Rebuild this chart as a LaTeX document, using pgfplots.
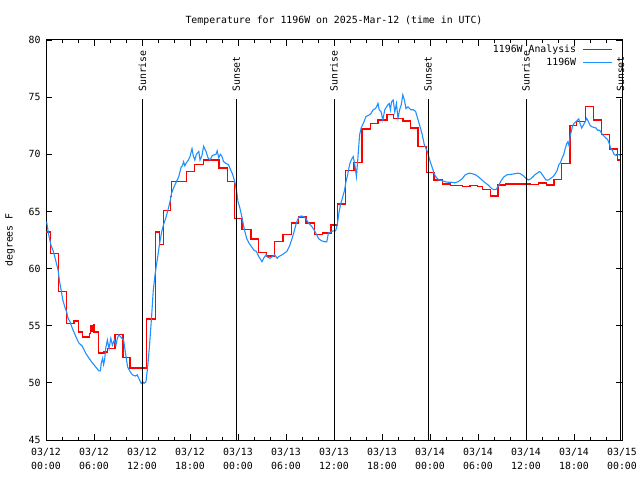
\documentclass[border=0pt]{standalone}
\usepackage{fontspec}
\setmainfont{DejaVu Sans Mono}
\usepackage{pgfplots}
\pgfplotsset{compat=1.18}
\definecolor{obsblue}{RGB}{30,144,255}

% analysis (hourly steps) and station observations
\pgfplotstableread{
h T
0 63.2
0.58 61.3
1.58 58.0
2.58 55.2
3.5 55.4
4.04 54.45
4.54 54.0
5.46 54.3
5.6 55.0
5.75 54.5
5.9 55.1
6.0 54.45
6.6 52.6
7.25 52.7
7.67 53.0
8.63 54.25
9.63 52.2
10.5 51.3
12.54 53.5
12.6 55.6
13.67 63.2
14.2 62.1
14.67 65.1
15.54 66.3
15.67 67.6
17.54 68.5
18.58 69.1
19.7 69.5
21.63 68.8
22.67 67.6
23.6 64.4
24.5 63.4
25.63 62.6
26.58 61.4
27.54 61.1
28.58 62.35
29.63 63.0
30.67 64.0
31.58 64.5
32.5 64.0
33.58 63.0
34.58 63.1
35.63 63.8
36.45 65.65
37.4 68.6
38.5 69.3
39.5 72.2
40.54 72.7
41.5 73.0
42.63 73.5
43.46 73.15
44.63 72.9
45.58 72.3
46.5 70.7
47.54 68.4
48.5 67.75
49.54 67.4
50.58 67.25
52.04 67.2
53.0 67.25
53.9 67.2
54.54 66.9
55.58 66.35
56.5 67.3
57.46 67.4
60.5 67.35
61.54 67.5
62.58 67.3
63.5 67.8
64.46 69.2
65.5 72.5
66.33 72.85
67.46 74.2
68.42 73.0
69.46 71.75
70.42 70.45
71.46 69.5
71.83 69.5
}\analysis

\pgfplotstableread{
h T
0.08 64.1
0.3 63.1
0.6 62.1
0.92 61.5
1.2 60.75
1.5 59.9
1.7 58.85
1.92 58.0
2.1 57.25
2.33 56.7
2.58 56.2
2.75 55.65
3.0 55.35
3.3 54.75
3.58 54.3
3.92 53.75
4.1 53.5
4.54 53.2
4.96 52.6
5.38 52.15
5.79 51.75
6.21 51.4
6.6 51.05
6.8 51.05
6.9 51.7
7.08 52.15
7.2 51.6
7.33 52.0
7.46 53.0
7.67 53.75
7.88 53.0
8.1 53.9
8.3 53.3
8.54 53.75
8.75 53.3
8.92 53.9
9.1 54.2
9.3 54.05
9.7 53.75
10.0 52.3
10.2 51.4
10.5 51.0
10.8 50.7
11.2 50.6
11.4 50.7
11.7 50.25
11.9 49.95
12.1 50.1
12.25 49.95
12.5 50.1
12.75 51.7
12.96 53.45
13.2 55.8
13.4 58.0
13.6 59.3
13.8 60.3
14.0 61.2
14.2 62.2
14.46 63.2
14.67 63.8
14.96 64.4
15.2 65.0
15.5 65.85
15.7 66.6
16.0 67.15
16.3 67.6
16.6 68.05
16.9 68.9
17.05 69.0
17.2 69.35
17.35 69.0
17.5 69.2
17.8 69.5
18.0 69.8
18.25 70.5
18.4 69.9
18.6 69.5
18.8 70.0
19.1 70.25
19.25 69.5
19.5 69.9
19.7 70.7
20.0 70.25
20.25 69.7
20.5 69.5
20.8 69.9
21.25 70.0
21.4 70.3
21.6 69.7
21.8 70.0
22.0 69.8
22.2 69.35
22.5 69.2
22.8 69.1
23.1 68.6
23.3 68.3
23.6 67.6
23.8 66.9
24.0 65.85
24.2 65.4
24.4 64.8
24.6 64.1
24.8 63.4
25.1 62.6
25.4 62.2
25.7 61.9
26.0 61.6
26.3 61.5
26.6 61.05
27.0 60.6
27.2 60.9
27.5 61.2
27.7 61.0
28.0 60.9
28.3 61.05
28.6 61.2
28.9 60.9
29.1 61.05
29.5 61.2
30.1 61.5
30.4 61.9
30.7 62.5
31.0 63.2
31.3 64.0
31.6 64.5
31.9 64.6
32.2 64.55
32.5 64.35
32.8 64.0
33.2 63.7
33.5 63.4
33.8 63.0
34.1 62.6
34.4 62.45
34.8 62.35
35.1 62.35
35.3 63.1
35.6 63.2
35.9 63.3
36.2 63.3
36.4 63.8
36.6 64.8
36.8 65.55
37.1 66.3
37.3 66.8
37.5 67.6
37.7 68.2
37.95 69.1
38.15 69.5
38.4 69.8
38.6 69.1
38.8 68.05
39.0 69.8
39.2 71.7
39.4 72.3
39.75 72.85
40.0 73.3
40.3 73.4
40.6 73.55
40.9 73.9
41.2 74.0
41.5 74.45
41.65 73.9
41.9 73.7
42.1 73.0
42.35 73.9
42.7 74.3
42.9 74.45
43.05 73.9
43.2 74.6
43.4 74.75
43.6 73.7
43.8 74.45
44.0 73.15
44.2 73.9
44.4 74.3
44.6 75.2
44.8 74.75
45.0 74.0
45.25 74.15
45.6 73.9
45.9 73.9
46.2 73.75
46.45 73.15
46.7 72.55
47.0 71.8
47.3 70.8
47.7 70.2
47.9 69.65
48.1 69.2
48.3 68.8
48.5 68.35
48.7 68.05
49.1 67.75
49.5 67.7
49.9 67.6
50.3 67.55
50.7 67.55
51.1 67.5
51.5 67.6
52.0 67.85
52.4 68.2
52.9 68.35
53.3 68.3
53.7 68.2
54.1 68.0
54.5 67.75
54.9 67.5
55.3 67.3
55.7 67.0
56.0 66.9
56.3 66.95
56.6 67.3
56.9 67.7
57.2 68.0
57.6 68.2
58.2 68.25
58.6 68.3
59.0 68.35
59.3 68.3
59.7 68.1
60.0 67.9
60.3 67.75
60.6 67.85
60.9 68.05
61.1 68.2
61.4 68.35
61.7 68.5
61.9 68.35
62.2 68.05
62.5 67.75
62.8 67.75
63.1 67.9
63.4 68.05
63.7 68.35
63.9 68.6
64.1 69.1
64.3 69.25
64.5 69.65
64.7 69.95
64.9 70.5
65.1 70.95
65.25 71.1
65.4 70.7
65.5 71.55
65.7 72.1
65.8 72.45
66.0 72.7
66.25 72.85
66.46 73.0
66.6 73.1
66.75 72.7
66.96 72.3
67.2 72.6
67.4 72.85
67.58 73.15
67.8 72.85
68.0 72.55
68.25 72.4
68.5 72.35
68.75 72.3
68.96 72.1
69.2 72.1
69.4 71.9
69.6 71.7
69.8 71.55
70.0 71.4
70.2 71.3
70.4 70.95
70.6 70.5
70.8 70.35
71.0 70.0
71.25 69.9
71.5 70.0
71.8 69.9
}\station

\begin{document}
\begin{tikzpicture}[font=\fontsize{9.9}{14}\selectfont]
\begin{axis}[
  scale only axis, width=576bp, height=400bp,
  xmin=0, xmax=72, ymin=45, ymax=80,
  xtick={0,6,...,72},
  minor xtick={2,4,...,70},
  xticklabels={{03/12\\00:00},{03/12\\06:00},{03/12\\12:00},{03/12\\18:00},
    {03/13\\00:00},{03/13\\06:00},{03/13\\12:00},{03/13\\18:00},
    {03/14\\00:00},{03/14\\06:00},{03/14\\12:00},{03/14\\18:00},{03/15\\00:00}},
  xticklabel style={align=center, yshift=-5bp},
  ytick={45,50,...,80},
  yticklabel style={xshift=-2bp},
  /pgf/number format/assume math mode=true,
  tick align=inside,
  major tick length=6bp, minor tick length=3bp,
  tick style={black, line width=0.8bp},
  axis line style={line width=1bp},
  title={Temperature for 1196W on 2025-Mar-12 (time in UTC)},
  title style={at={(axis description cs:0.5,1.033)}, anchor=center},
  ylabel={degrees F},
  ylabel style={at={(axis description cs:-0.0625,0.5)}, anchor=center},
  clip mode=individual,
  legend style={draw=none, fill=none, at={(axis description cs:0.984,0.991)},
    anchor=north east, inner sep=0pt, row sep=1bp,
    nodes={inner sep=1.5bp},
    /tikz/every odd column/.append style={column sep=5bp}},
  legend cell align=right,
  legend plot pos=right,
  legend image code/.code={\draw[#1, line width=1bp] (0bp,0bp) -- (29bp,0bp);},
]
\addplot[red, line width=1.3bp, const plot] table[x=h, y=T] {\analysis};
\addlegendentry{1196W Analysis}
\addplot[obsblue, line width=1.1bp] table[x=h, y=T] {\station};
\addlegendentry{1196W}

\addplot[black, line width=1bp, forget plot] coordinates {(12.05,45) (12.05,74.8)};
\addplot[black, line width=1bp, forget plot] coordinates {(23.8,45) (23.8,74.8)};
\addplot[black, line width=1bp, forget plot] coordinates {(36.0,45) (36.0,74.8)};
\addplot[black, line width=1bp, forget plot] coordinates {(47.75,45) (47.75,74.8)};
\addplot[black, line width=1bp, forget plot] coordinates {(60.0,45) (60.0,74.8)};
\addplot[black, line width=1bp, forget plot] coordinates {(71.83,45) (71.83,74.8)};
\node[rotate=90, anchor=west, inner sep=0pt] at (axis cs:12.05,75.45) {Sunrise};
\node[rotate=90, anchor=west, inner sep=0pt] at (axis cs:23.8,75.45) {Sunset};
\node[rotate=90, anchor=west, inner sep=0pt] at (axis cs:36.0,75.45) {Sunrise};
\node[rotate=90, anchor=west, inner sep=0pt] at (axis cs:47.75,75.45) {Sunset};
\node[rotate=90, anchor=west, inner sep=0pt] at (axis cs:60.0,75.45) {Sunrise};
\node[rotate=90, anchor=west, inner sep=0pt] at (axis cs:71.83,75.45) {Sunset};
\end{axis}
\pgfresetboundingbox
\path[use as bounding box] (-46bp,-40bp) rectangle (594bp,440bp);
\end{tikzpicture}
\end{document}
